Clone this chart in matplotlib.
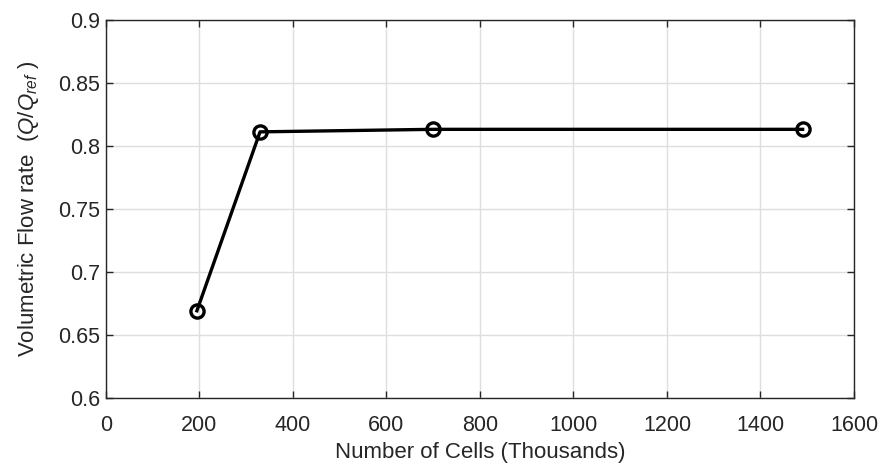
import matplotlib
matplotlib.use('Agg')
import matplotlib.pyplot as plt

plt.rcParams['font.family'] = ['Liberation Sans', 'DejaVu Sans']
plt.rcParams['mathtext.fontset'] = 'custom'
plt.rcParams['mathtext.rm'] = 'Liberation Sans'
plt.rcParams['mathtext.it'] = 'Liberation Sans:italic'

# mesh sizes (thousands of cells) and normalised flow rate
cells = [195, 330, 700, 1490]
flow_rate = [0.669, 0.811, 0.813, 0.813]

xticks = [0, 200, 400, 600, 800, 1000, 1200, 1400, 1600]
yticks = [0.6, 0.65, 0.7, 0.75, 0.8, 0.85, 0.9]

fig = plt.figure(figsize=(8.83, 4.65), dpi=100)
ax = fig.add_axes([0.1197, 0.1447, 0.8475, 0.8129])

ax.plot(cells, flow_rate, color='black', linewidth=2.4,
        marker='o', markersize=9.5, markerfacecolor='none',
        markeredgewidth=2.4, markeredgecolor='black', zorder=3)

ax.set_xlim(0, 1600)
ax.set_ylim(0.6, 0.9)
ax.set_xticks(xticks)
ax.set_yticks(yticks)
ax.set_xticklabels([str(t) for t in xticks])
ax.set_yticklabels(['0.6', '0.65', '0.7', '0.75', '0.8', '0.85', '0.9'])

ax.grid(True, color='#dedede', linewidth=1.0)
ax.set_axisbelow(True)
ax.tick_params(direction='in', length=5, width=1, colors='#262626',
               labelsize=15.5, top=True, right=True)
ax.tick_params(axis='x', pad=12.5)
ax.tick_params(axis='y', pad=4)
for s in ax.spines.values():
    s.set_color('#262626')
    s.set_linewidth(1.0)

ax.set_xlabel('Number of Cells (Thousands)', fontsize=16, color='#262626', labelpad=4)
ax.set_ylabel(r'Volumetric Flow rate  $(Q/Q_{ref}\ )$', fontsize=16,
              color='#262626', labelpad=12)

fig.savefig('out.png', dpi=100)
